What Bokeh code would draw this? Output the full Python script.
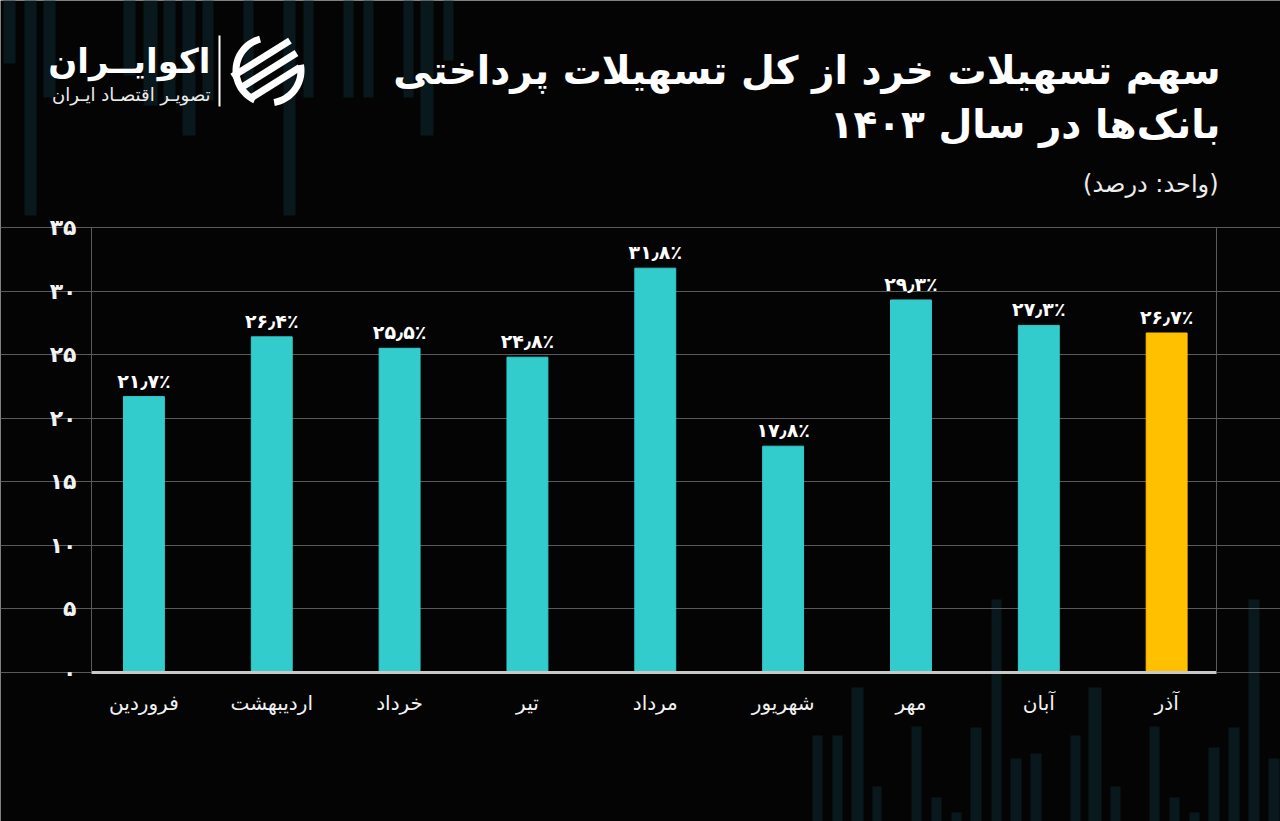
import numpy as np
from bokeh.plotting import figure
from bokeh.models import Range1d, FixedTicker, Label, ColumnDataSource, LabelSet, LinearAxis
from bokeh.embed import file_html
from bokeh.resources import INLINE
from bokeh.core.properties import value

# ---------------- data ----------------
months = ["فروردین", "اردیبهشت", "خرداد", "تیر", "مرداد", "شهریور", "مهر", "آبان", "آذر"]
shares = [21.7, 26.4, 25.5, 24.8, 31.8, 17.8, 29.3, 27.3, 26.7]
y_ticks = [0, 5, 10, 15, 20, 25, 30, 35]
highlight = "آذر"

title_1 = "سهم تسهیلات خرد از کل تسهیلات پرداختی"
title_2 = "بانک‌ها در سال ۱۴۰۳"
unit_txt = "(واحد: درصد)"
brand = "اکوایــران"
brand_sub = "تصویـر اقتصـاد ایـران"

FA = str.maketrans("0123456789.", "۰۱۲۳۴۵۶۷۸۹٫")
def fa(s):
    return str(s).translate(FA)

# ---------------- layout (plot area in page pixels) ----------------
W, H = 1280, 821
PL, PR, PT, PB = 91, 1216, 227, 672      # plot area edges
X0, X1 = -0.41, 8.39                      # categories span between PL and PR
Y0, Y1 = 0, 35                            # values span between PB and PT

def dx(px):
    return X0 + (px - PL) * (X1 - X0) / (PR - PL)

def dy(py):
    return Y0 + (PB - py) * (Y1 - Y0) / (PB - PT)

BG = "#040404"
TEAL = "#33CCCC"
GOLD = "#FFC000"
GRID = "#5a5a5a"
DECO = "#09181d"
FONT = "DejaVu Sans"

p = figure(width=W, height=H, x_range=Range1d(dx(0), dx(W)), y_range=Range1d(dy(H), dy(0)),
           output_backend="svg", toolbar_location=None, title=None,
           min_border_left=0, min_border_right=0, min_border_top=0, min_border_bottom=0,
           background_fill_color=BG, border_fill_color=BG, outline_line_color=None)

# decorative faint background bars (page pixels: left, right, end)
deco_top = [(3, 15, 63), (24, 36, 215), (43, 55, 97), (123, 135, 75), (143, 157, 105),
            (163, 175, 100), (182, 195, 135), (202, 213, 100), (243, 253, 97), (283, 295, 215),
            (303, 313, 97), (343, 353, 97), (363, 373, 97), (403, 413, 97), (420, 433, 135),
            (443, 453, 60)]
deco_bot = [(812, 822, 735), (832, 842, 735), (851, 863, 687), (872, 881, 786), (911, 921, 726),
            (931, 941, 797), (951, 961, 812), (970, 981, 727), (991, 1001, 599), (1010, 1021, 758),
            (1030, 1041, 753), (1070, 1080, 735), (1088, 1101, 687), (1110, 1120, 786),
            (1149, 1159, 726), (1169, 1179, 797), (1189, 1199, 812), (1208, 1219, 747),
            (1228, 1239, 727), (1248, 1259, 599), (1268, 1279, 758)]
ql = [dx(a) for a, b, c in deco_top] + [dx(a) for a, b, c in deco_bot]
qr = [dx(b) for a, b, c in deco_top] + [dx(b) for a, b, c in deco_bot]
qt = [dy(0) for _ in deco_top] + [dy(c) for a, b, c in deco_bot]
qb = [dy(c) for a, b, c in deco_top] + [dy(H) for _ in deco_bot]
p.quad(left=ql, right=qr, top=qt, bottom=qb, fill_color=DECO, line_color=None, level="image")

# bars
idx = list(range(len(months)))
colors = [GOLD if m == highlight else TEAL for m in months]
labels = [fa(v) + "٪" for v in shares]
src = ColumnDataSource(dict(x=idx, top=shares, color=colors, label=labels))
p.vbar(x="x", top="top", width=0.32, color="color", source=src)
p.add_layout(LabelSet(x="x", y="top", text="label", source=src, y_offset=5,
                      text_align="center", text_baseline="bottom",
                      text_font=value(FONT), text_font_size="19px", text_font_style="bold",
                      text_color="#ffffff"))

# axes (fixed inside the canvas)
xa = p.xaxis[0]
xa.fixed_location = Y0
xa.bounds = (X0, X1)
xa.ticker = FixedTicker(ticks=idx)
xa.major_label_overrides = {i: m for i, m in enumerate(months)}
xa.axis_line_color = "#c8c8c8"
xa.axis_line_width = 3
xa.major_tick_line_color = None
xa.minor_tick_line_color = None
xa.major_label_text_font = FONT
xa.major_label_text_font_size = "20px"
xa.major_label_text_color = "#f2f2f2"
xa.major_label_standoff = 12

ya = p.yaxis[0]
ya.fixed_location = X0
ya.bounds = (Y0, Y1)
ya.ticker = FixedTicker(ticks=y_ticks)
ya.major_label_overrides = {t: fa(t) for t in y_ticks}
ya.axis_line_color = GRID
ya.axis_line_width = 1
ya.major_tick_line_color = None
ya.minor_tick_line_color = None
ya.major_label_text_font = FONT
ya.major_label_text_font_size = "22px"
ya.major_label_text_font_style = "bold"
ya.major_label_text_color = "#f2f2f2"
ya.major_label_standoff = 9

ra = LinearAxis(fixed_location=X1, bounds=(Y0, Y1), ticker=FixedTicker(ticks=y_ticks),
                axis_line_color=GRID, axis_line_width=1, major_tick_line_color=None,
                minor_tick_line_color=None, major_label_text_font_size="0px",
                major_label_text_alpha=0)
p.add_layout(ra, "right")

p.xgrid.grid_line_color = None
p.ygrid.ticker = FixedTicker(ticks=y_ticks)
p.ygrid.bounds = (X0, X1)
p.ygrid.grid_line_color = GRID
p.ygrid.grid_line_width = 1

# titles
def add_text(txt, px, py, size, bold=False, align="right", color="#ffffff"):
    p.add_layout(Label(x=dx(px), y=dy(py), text=txt, text_align=align, text_baseline="middle",
                       text_font=FONT, text_font_size=size,
                       text_font_style="bold" if bold else "normal", text_color=color))

add_text(title_1, 1220, 70, "39px", bold=True)
add_text(title_2, 1220, 124, "39px", bold=True)
add_text(unit_txt, 1218, 183, "24px", color="#ececec")

# logo
add_text(brand, 210, 60, "34px", bold=True)
add_text(brand_sub, 210, 94, "18px", color="#ececec")
p.segment(x0=[dx(219)], y0=[dy(35)], x1=[dx(219)], y1=[dy(106)], line_color="#ffffff", line_width=2)

cx, cy = 268, 70
def ring(a0, a1, r_out=36, r_in=29, n=30):
    th = np.radians(np.linspace(a0, a1, n))
    xs = list(cx + r_out * np.cos(th)) + list(cx + r_in * np.cos(th[::-1]))
    ys = list(cy - r_out * np.sin(th)) + list(cy - r_in * np.sin(th[::-1]))
    return [dx(v) for v in xs], [dy(v) for v in ys]

pxs, pys = [], []
for a0, a1 in [(105, 245), (-80, 10)]:
    xs, ys = ring(a0, a1)
    pxs.append(xs)
    pys.append(ys)

ang = np.radians(32)
d = np.array([np.cos(ang), -np.sin(ang)])
perp = np.array([np.sin(ang), np.cos(ang)])
for k, half in [(-1, 34), (0, 33), (1, 28)]:
    c = np.array([cx, cy]) + k * 14 * perp
    pts = [c - half * d - 3.5 * perp, c + half * d - 3.5 * perp,
           c + half * d + 3.5 * perp, c - half * d + 3.5 * perp]
    pxs.append([dx(q[0]) for q in pts])
    pys.append([dy(q[1]) for q in pts])
p.patches(xs=pxs, ys=pys, fill_color="#ffffff", line_color=None)

open("out.html", "w").write(file_html(p, INLINE))
